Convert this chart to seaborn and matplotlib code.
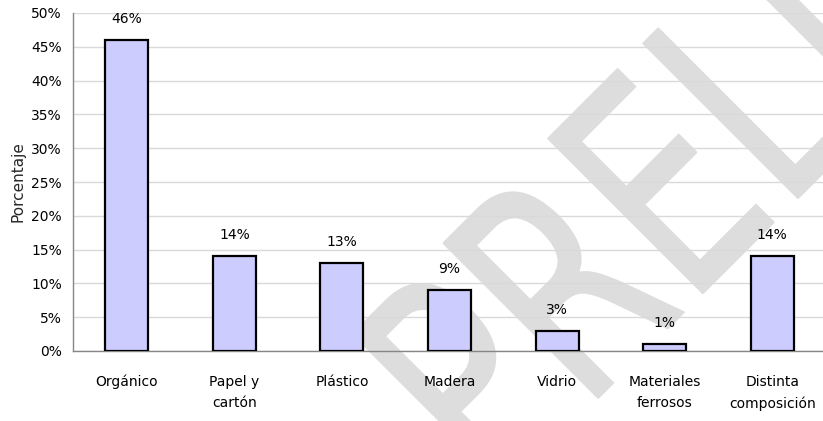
import matplotlib
matplotlib.use("Agg")
import matplotlib.pyplot as plt
from matplotlib.textpath import TextPath
from matplotlib.patches import PathPatch
from matplotlib.font_manager import FontProperties
from matplotlib.transforms import Affine2D
import seaborn as sns
import pandas as pd

# datos
categorias = ["Orgánico", "Papel y\ncartón", "Plástico", "Madera", "Vidrio",
              "Materiales\nferrosos", "Distinta\ncomposición"]
porcentajes = [46, 14, 13, 9, 3, 1, 14]
yticks = [0, 5, 10, 15, 20, 25, 30, 35, 40, 45, 50]
ytick_labels = [f"{v}%" for v in yticks]

df = pd.DataFrame({"Categoria": categorias, "Porcentaje": porcentajes})

sns.set_style("white")
plt.rcParams["font.family"] = ["DejaVu Sans"]
plt.rcParams["text.color"] = "black"
plt.rcParams["xtick.color"] = "black"
plt.rcParams["ytick.color"] = "black"

fig = plt.figure(figsize=(8.23, 4.21), dpi=100, facecolor="white")
ax = fig.add_axes([73 / 823, 1 - 351 / 421, (826 - 73) / 823, (351 - 13) / 421])
ax.set_facecolor("none")

sns.barplot(data=df, x="Categoria", y="Porcentaje", color="#ccccff", saturation=1,
            edgecolor="black", linewidth=1.6, width=0.4, ax=ax)
for p in ax.patches:
    p.set_zorder(3)

ax.set_ylim(0, 50)
ax.set_xlim(-0.5, len(categorias) - 0.5)
ax.set_yticks(yticks)
ax.set_yticklabels(ytick_labels, fontsize=10)
ax.yaxis.grid(True, color="#d9d9d9", linewidth=1)
ax.set_axisbelow(True)

# ticks del eje x entre categorias
ax.set_xticks(range(len(categorias)))
ax.set_xticklabels(categorias, fontsize=10, linespacing=1.7)
ax.set_xticks([i - 0.5 for i in range(len(categorias) + 1)], minor=True)
ax.tick_params(axis="x", which="major", length=0, pad=17)
ax.tick_params(axis="x", which="minor", length=5, width=1, color="#868686", direction="out")
ax.tick_params(axis="y", length=4, width=1, color="#868686", direction="out", pad=4)

for s in ["top", "right"]:
    ax.spines[s].set_visible(False)
for s in ["left", "bottom"]:
    ax.spines[s].set_color("#868686")
    ax.spines[s].set_linewidth(1)

ax.set_xlabel("")
ax.set_ylabel("Porcentaje", fontsize=11, labelpad=4)

ax.bar_label(ax.containers[0], labels=[f"{v}%" for v in porcentajes],
             padding=10, fontsize=10)

# marca de agua (detrás de la rejilla y las barras)
tp = TextPath((0, 0), "PRELIMINAR", size=1, prop=FontProperties(family="DejaVu Sans"))
trans = Affine2D().scale(213, 300).rotate_deg(45).translate(492.6, -82.4)
marca = PathPatch(tp, transform=trans, facecolor="#dddddd", edgecolor="#dddddd",
                  linewidth=1.5, joinstyle="round", zorder=-1)
fig.add_artist(marca)

fig.savefig("out.png", dpi=100)
